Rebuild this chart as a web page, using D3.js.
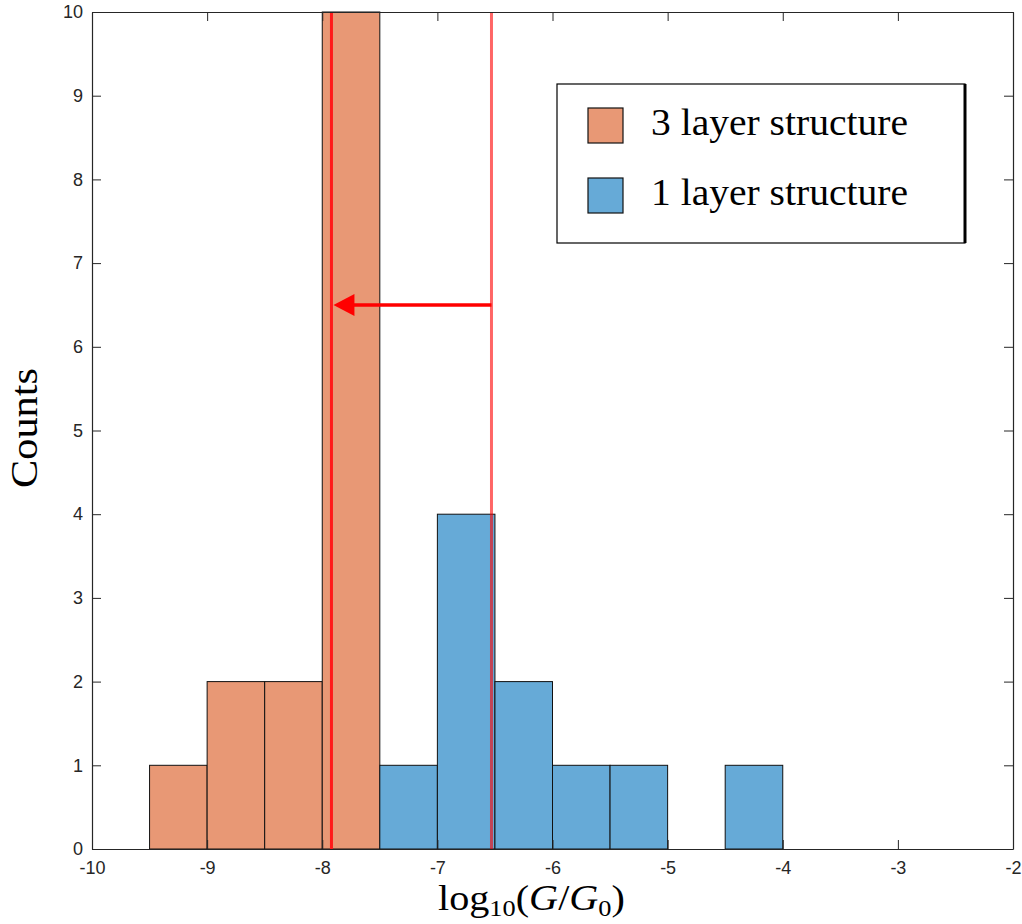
<!DOCTYPE html>
<html>
<head>
<meta charset="utf-8">
<script src="https://cdn.jsdelivr.net/npm/d3@7"></script>
<style>
  body { margin: 0; background: #fff; }
  svg { display: block; }
</style>
</head>
<body>
<svg id="chart"></svg>
<script>
// Histogram data: bin edges in log10(G/G0) and counts
const threeLayerBins = [-9.5, -9, -8.5, -8];
const threeLayerCounts = [1, 2, 2, 10];
const oneLayerBins = [-7.5, -7, -6.5, -6, -5.5, -4.5];
const oneLayerCounts = [1, 4, 2, 1, 1, 1];
const binWidth = 0.5;

// Means (vertical lines) and arrow
const mean3 = -7.92;
const mean1 = -6.53;
const arrowY = 6.5;

const xTicks = [-10, -9, -8, -7, -6, -5, -4, -3, -2];
const yTicks = [0, 1, 2, 3, 4, 5, 6, 7, 8, 9, 10];
const legendLabels = ["3 layer structure", "1 layer structure"];
const colors = ["#E89875", "#66AAD7"];

const svgWidth = 1022, svgHeight = 924;
const margin = { top: 12, right: 9, bottom: 75, left: 92 };
const width = svgWidth - margin.left - margin.right;
const height = svgHeight - margin.top - margin.bottom;

const svg = d3.select("#chart")
    .attr("width", svgWidth)
    .attr("height", svgHeight);

const chart = svg.append("g")
    .attr("transform", `translate(${margin.left},${margin.top})`);

const x = d3.scaleLinear().domain([-10, -2]).range([0, width]);
const y = d3.scaleLinear().domain([0, 10]).range([height, 0]);

// Bars
const series = [
    { bins: threeLayerBins, counts: threeLayerCounts, color: colors[0] },
    { bins: oneLayerBins, counts: oneLayerCounts, color: colors[1] }
];
series.forEach(s => {
    chart.selectAll(null)
        .data(s.bins.map((b, i) => ({ x0: b, n: s.counts[i] })))
        .enter().append("rect")
        .attr("x", d => x(d.x0))
        .attr("y", d => y(d.n))
        .attr("width", x(binWidth) - x(0))
        .attr("height", d => height - y(d.n))
        .attr("fill", s.color)
        .attr("stroke", "#111")
        .attr("stroke-width", 1);
});

// Mean lines
chart.append("line")
    .attr("x1", x(mean3)).attr("x2", x(mean3))
    .attr("y1", y(10)).attr("y2", y(0))
    .attr("stroke", "#ff1a1a").attr("stroke-width", 3);
chart.append("line")
    .attr("x1", x(mean1)).attr("x2", x(mean1))
    .attr("y1", y(10)).attr("y2", y(0))
    .attr("stroke", "rgba(255,0,0,0.6)").attr("stroke-width", 3);

// Arrow from mean1 to mean3
const ay = y(arrowY);
const tip = x(mean3) + 2;
chart.append("line")
    .attr("x1", x(mean1)).attr("x2", tip + 18)
    .attr("y1", ay).attr("y2", ay)
    .attr("stroke", "#ff0000").attr("stroke-width", 3.5);
chart.append("path")
    .attr("d", `M${tip},${ay} L${tip + 21},${ay - 11} L${tip + 21},${ay + 11} Z`)
    .attr("fill", "#ff0000");

// Axes (MATLAB-style box with inward ticks)
const axisColor = "#262626";
const tickLen = 9;
const fmt = d => String(d);
const xAxis = chart.append("g")
    .attr("transform", `translate(0,${height})`)
    .call(d3.axisBottom(x).tickValues(xTicks).tickSizeInner(-tickLen).tickSizeOuter(0).tickPadding(12).tickFormat(fmt));
const xAxisTop = chart.append("g")
    .call(d3.axisTop(x).tickValues(xTicks).tickSizeInner(-tickLen).tickSizeOuter(0).tickFormat(""));
const yAxis = chart.append("g")
    .call(d3.axisLeft(y).tickValues(yTicks).tickSizeInner(-tickLen).tickSizeOuter(0).tickPadding(9).tickFormat(fmt));
const yAxisRight = chart.append("g")
    .attr("transform", `translate(${width},0)`)
    .call(d3.axisRight(y).tickValues(yTicks).tickSizeInner(-tickLen).tickSizeOuter(0).tickFormat(""));

[xAxis, xAxisTop, yAxis, yAxisRight].forEach(g => {
    g.select(".domain").attr("stroke", axisColor).attr("stroke-width", 1.2);
    g.selectAll(".tick line").attr("stroke", axisColor).attr("stroke-width", 1);
    g.selectAll(".tick text")
        .attr("fill", axisColor)
        .style("font-family", "'Liberation Sans', Arial, sans-serif")
        .style("font-size", "18px");
});

// Axis labels
const serif = "'Liberation Serif', 'DejaVu Serif', serif";
svg.append("text")
    .attr("transform", `translate(37,428) rotate(-90)`)
    .attr("text-anchor", "middle")
    .style("font-family", serif)
    .style("font-size", "38px")
    .attr("textLength", 120)
    .attr("lengthAdjust", "spacingAndGlyphs")
    .attr("fill", "#000")
    .text("Counts");

// x label, stretched horizontally to the reference width
const xlg = svg.append("g");
const xl = xlg.append("text")
    .attr("x", 0)
    .attr("y", 0)
    .style("font-family", serif)
    .style("font-size", "35px")
    .attr("fill", "#000");
xl.append("tspan").text("log");
xl.append("tspan").attr("dy", 6).style("font-size", "23px").text("10");
xl.append("tspan").attr("dy", -6).text("(");
xl.append("tspan").style("font-style", "italic").text("G");
xl.append("tspan").text("/");
xl.append("tspan").style("font-style", "italic").text("G");
xl.append("tspan").attr("dy", 6).style("font-size", "23px").text("0");
xl.append("tspan").attr("dy", -6).text(")");
const xlw = xl.node().getComputedTextLength() || 160;
const sx = 187 / xlw;
xlg.attr("transform", `translate(438,910) scale(${sx},1)`);

// Legend
const lg = svg.append("g").attr("transform", "translate(557,84)");
lg.append("rect")
    .attr("width", 408).attr("height", 159)
    .attr("fill", "#fff")
    .attr("stroke", "#000").attr("stroke-width", 1.2);
lg.append("line").attr("x1", 408).attr("x2", 408).attr("y1", 0).attr("y2", 159)
    .attr("stroke", "#000").attr("stroke-width", 3);
legendLabels.forEach((lab, i) => {
    const row = lg.append("g").attr("transform", `translate(0,${24 + i * 70})`);
    row.append("rect")
        .attr("x", 31).attr("width", 35).attr("height", 35)
        .attr("fill", colors[i])
        .attr("stroke", "#111").attr("stroke-width", 1.2);
    row.append("text")
        .attr("x", 94).attr("y", 27)
        .style("font-family", serif)
        .style("font-size", "37px")
        .attr("textLength", 257)
        .attr("lengthAdjust", "spacingAndGlyphs")
        .attr("fill", "#000")
        .text(lab);
});
</script>
</body>
</html>
